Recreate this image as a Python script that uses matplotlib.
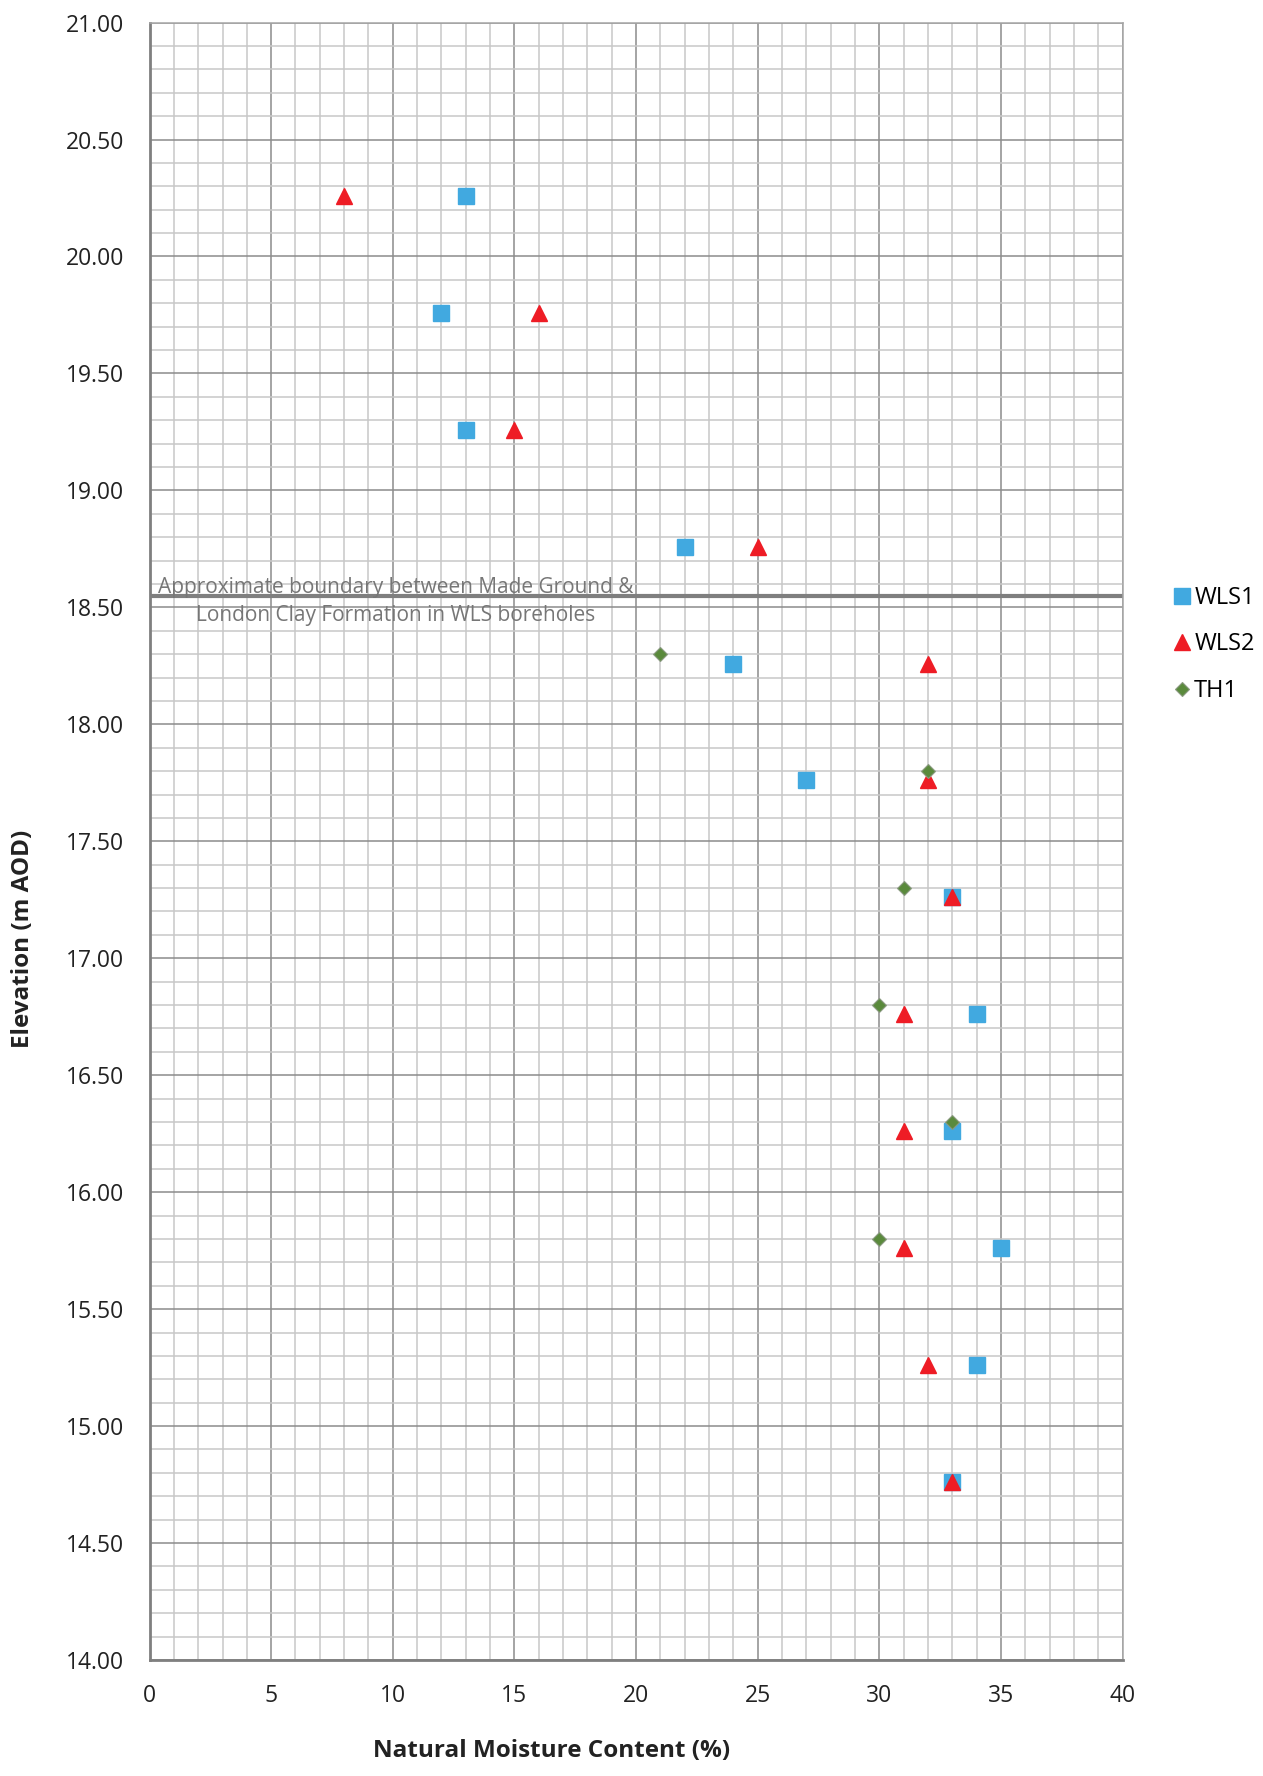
import matplotlib
matplotlib.use("Agg")
from matplotlib import pyplot as plt
from matplotlib.ticker import MultipleLocator
import numpy as np

plt.rcParams['font.family'] = ['Open Sans', 'DejaVu Sans']

# WLS1 borehole
wls1_mc = [13, 12, 13, 22, 24, 27, 33, 34, 33, 35, 34, 33]
wls1_el = [20.26, 19.76, 19.26, 18.76, 18.26, 17.76, 17.26, 16.76, 16.26, 15.76, 15.26, 14.76]

# WLS2 borehole
wls2_mc = [8, 16, 15, 25, 32, 32, 33, 31, 31, 31, 32, 33]
wls2_el = [20.26, 19.76, 19.26, 18.76, 18.26, 17.76, 17.26, 16.76, 16.26, 15.76, 15.26, 14.76]

# TH1
th1_mc = [21, 32, 31, 30, 33, 30]
th1_el = [18.30, 17.80, 17.30, 16.80, 16.30, 15.80]

boundary_el = 18.55
boundary_text = "Approximate boundary between Made Ground &\nLondon Clay Formation in WLS boreholes"

fig = plt.figure(figsize=(12.63, 17.76), dpi=100)
ax = fig.add_axes([0.1184, 0.0653, 0.8888 - 0.1184, 0.9873 - 0.0653])

ax.set_xlim(0, 40)
ax.set_ylim(14, 21)
ax.xaxis.set_major_locator(MultipleLocator(5))
ax.xaxis.set_minor_locator(MultipleLocator(1))
ax.yaxis.set_major_locator(MultipleLocator(0.5))
ax.yaxis.set_minor_locator(MultipleLocator(0.1))
ax.yaxis.set_major_formatter(plt.FormatStrFormatter('%.2f'))

ax.grid(which='major', color='#8c8c8c', linewidth=1.1)
ax.grid(which='minor', color='#c8c8c8', linewidth=1.1)
ax.set_axisbelow(True)
ax.tick_params(which='both', length=0, labelsize=16.5, colors='#222222')
ax.tick_params(axis='y', pad=18)
ax.tick_params(axis='x', pad=17)
for side in ['left', 'bottom']:
    ax.spines[side].set_color('#7f7f7f')
    ax.spines[side].set_linewidth(2)
for side in ['top', 'right']:
    ax.spines[side].set_color('#a6a6a6')
    ax.spines[side].set_linewidth(1.1)

ax.axhline(boundary_el, color='#7f7f7f', linewidth=3, zorder=2)
ax.text(10.1, boundary_el - 0.024, boundary_text, ha='center', va='center', fontsize=15,
        color='#767676', linespacing=1.45, zorder=3)

ax.plot(wls1_mc, wls1_el, 's', color='#41a9e0', markersize=11, linestyle='none', label='WLS1', zorder=4)
ax.plot(wls2_mc, wls2_el, '^', color='#ee1c25', markersize=11, linestyle='none', label='WLS2', zorder=5)
ax.plot(th1_mc, th1_el, 'D', color='#5a8a3c', markeredgecolor='#8a9a80', markeredgewidth=0.8,
        markersize=7, linestyle='none', label='TH1', zorder=6)

ax.set_xlabel('Natural Moisture Content (%)', fontsize=17.5, fontweight='bold', color='#222222')
ax.set_ylabel('Elevation (m AOD)', fontsize=17.5, fontweight='bold', color='#222222')
ax.xaxis.set_label_coords(0.413, -0.048)
ax.yaxis.set_label_coords(-0.118, 0.4405)

fig.legend(loc='upper left', bbox_to_anchor=(0.91, 0.682), frameon=False, fontsize=17,
           handletextpad=0.0, handlelength=1.0, labelspacing=0.95)

fig.savefig('out.png', dpi=100)
